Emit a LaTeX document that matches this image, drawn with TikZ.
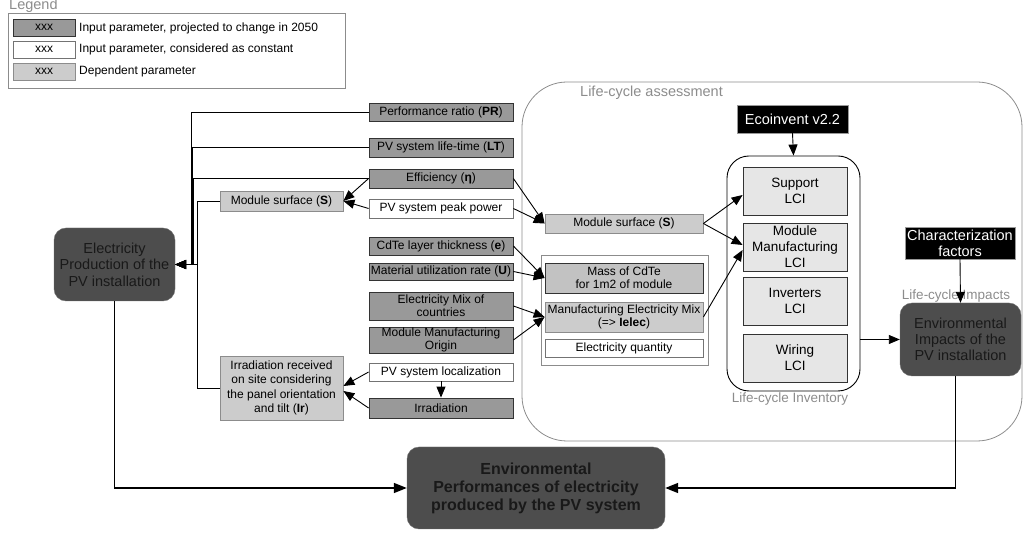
\documentclass[tikz,border=0pt]{standalone}
\usepackage{fontspec}
\setmainfont{Liberation Sans}
\usetikzlibrary{arrows.meta,calc}
\definecolor{dpar}{HTML}{999999}
\definecolor{lpar}{HTML}{CCCCCC}
\definecolor{bigc}{HTML}{4D4D4D}
\definecolor{lcic}{HTML}{E6E6E6}
\definecolor{lbl}{HTML}{8C8C8C}
\begin{document}
\begin{tikzpicture}[x=1pt,y=-1pt,
  box/.style={draw=black!80, inner sep=0pt, align=center, line width=0.8pt, font=\fontsize{12}{13}\selectfont},
  dp/.style={box, fill=dpar, minimum width=144pt},
  wp/.style={box, fill=white, draw=black!55, minimum width=144pt},
  lp/.style={box, fill=lpar, draw=black!45},
  big/.style={draw=black!55, fill=bigc, rounded corners=12pt, inner sep=0pt, align=center, text=black!90},
  lcib/.style={draw=black!80, fill=lcic, line width=0.8pt, minimum width=104pt, minimum height=48pt, inner sep=0pt, align=center, font=\fontsize{13.5}{16}\selectfont},
  blk/.style={draw=black!40, fill=black, text=white, inner sep=0pt, align=center, font=\fontsize{14.5}{16}\selectfont},
  glabel/.style={text=lbl, inner sep=0pt, font=\fontsize{14.5}{16}\selectfont},
  legtext/.style={anchor=west, inner sep=0pt, font=\fontsize{12}{13}\selectfont},
  ln/.style={line width=0.9pt, draw=black},
  arr/.style={ln, -{Triangle[length=11pt,width=9pt]}},
  barr/.style={line width=1.5pt, draw=black, -{Triangle[length=13pt,width=10pt]}},
]
\useasboundingbox (0,0) rectangle (1029,534);

% Legend
\node[glabel, anchor=base west] (legt) at (9,10) {Legend};
\draw[draw=black!45, line width=0.8pt] (8,13) rectangle (345,88);
\node[dp, minimum width=62pt, minimum height=17pt] (lg1) at (44,27.5) {xxx};
\node[wp, minimum width=62pt, minimum height=17pt] (lg2) at (44,49.5) {xxx};
\node[lp, minimum width=62pt, minimum height=17pt] (lg3) at (44,71.5) {xxx};
\node[legtext] (lt1) at (79,28) {Input parameter, projected to change in 2050};
\node[legtext] (lt2) at (79,49) {Input parameter, considered as constant};
\node[legtext] (lt3) at (79,71) {Dependent parameter};

% Life-cycle assessment region
\draw[draw=black!45, line width=0.8pt, rounded corners=45pt] (522,82) rectangle (1022,441);
\node[glabel, anchor=base west] (lcal) at (580,97) {Life-cycle assessment};

% Parameter boxes
\node[dp, minimum height=18pt] (pr) at (441,112) {Performance ratio (\textbf{PR})};
\node[dp, minimum height=19pt] (lt) at (441,147.5) {PV system life-time (\textbf{LT})};
\node[dp, minimum height=19pt] (eff) at (441,178.5) {Efficiency (\textbf{η})};
\node[wp, minimum height=19pt] (peak) at (441,208.5) {PV system peak power};
\node[lp, minimum width=123pt, minimum height=20pt] (msL) at (281.5,201) {Module surface (\textbf{S})};
\node[dp, minimum height=18pt] (cdte) at (441,246) {CdTe layer thickness (\textbf{e})};
\node[dp, minimum height=17pt] (mur) at (441,271.5) {Material utilization rate (\textbf{U})};
\node[dp, minimum height=28pt] (emix) at (441,306) {Electricity Mix of\\countries};
\node[dp, minimum height=26pt] (mmo) at (441,340) {Module Manufacturing\\Origin};
\node[wp, minimum height=18pt] (loc) at (441,372) {PV system localization};
\node[dp, minimum height=20pt] (irr) at (441,408) {Irradiation};
\node[lp, minimum width=123pt, minimum height=64pt, font=\fontsize{12}{14.5}\selectfont] (irrRec) at (281.5,388) {Irradiation received\\on site considering\\the panel orientation\\and tilt (\textbf{Ir})};

\node[big, minimum width=121pt, minimum height=73pt, font=\fontsize{14.5}{16.5}\selectfont] (ep) at (114.5,264.5) {Electricity\\Production of the\\PV installation};

% LCA middle column
\draw[draw=black!45, line width=0.8pt] (541,255) rectangle (708,365);
\node[lp, minimum width=158pt, minimum height=19pt] (msM) at (624,223.5) {Module surface (\textbf{S})};
\node[box, fill=lpar!95!black, minimum width=158pt, minimum height=30pt] (mass) at (624,278) {Mass of CdTe\\for 1m2 of module};
\node[lp, minimum width=158pt, minimum height=30pt] (mem) at (624,317) {Manufacturing Electricity Mix\\(=> \textbf{Ielec})};
\node[wp, minimum width=158pt, minimum height=18pt] (eq) at (624,348) {Electricity quantity};

% LCI
\node[blk, minimum width=111pt, minimum height=28pt] (eco) at (792.5,119) {Ecoinvent v2.2};
\node[draw=black, line width=0.9pt, rounded corners=22pt, minimum width=133pt, minimum height=235pt, inner sep=0pt] (lci) at (793.5,273.5) {};
\node[lcib] (sup) at (795,191) {Support\\LCI};
\node[lcib] (modman) at (795,247) {Module\\Manufacturing\\LCI};
\node[lcib] (inv) at (795,301) {Inverters\\LCI};
\node[lcib] (wir) at (795,358) {Wiring\\LCI};
\node[glabel, font=\fontsize{13.5}{15}\selectfont] (lcil) at (790,399) {Life-cycle Inventory};

% Impacts
\node[blk, minimum width=110pt, minimum height=32pt] (cf) at (960,243) {Characterization\\factors};
\node[glabel, font=\fontsize{13.5}{15}\selectfont] (impl) at (956,296) {Life-cycle Impacts};
\node[big, minimum width=121pt, minimum height=73pt, font=\fontsize{14.5}{16}\selectfont] (eimp) at (960.5,339.5) {Environmental\\Impacts of the\\PV installation};

\node[big, minimum width=258pt, minimum height=82pt, font=\fontsize{16}{18}\selectfont\bfseries] (perf) at (536,488) {Environmental\\Performances of electricity\\produced by the PV system};

% Junctions
\coordinate (j1) at (191,264.5);
\coordinate (j2) at (192,264.5);
\coordinate (j3) at (193,264.5);
\coordinate (j4) at (197,264.5);

% Left connectors
\draw[arr] (pr.west) -| (j1) -- (ep.east);
\draw[arr] (lt.west) -| (j2) -- (ep.east);
\draw[arr] (eff.west) -| (j3) -- (ep.east);
\draw[arr] (msL.west) -| (j4) -- (ep.east);
\draw[arr] (irrRec.west) -| (j4) -- (ep.east);

\draw[arr] (eff.west) -- (msL.east);
\draw[arr] (peak.west) -- (msL.east);
\draw[arr] (loc.west) -- ($(irrRec.east)+(0,-2)$);
\draw[arr] (irr.west) -- ($(irrRec.east)+(0,3)$);
\draw[arr] (loc.south) -- (irr.north);

% To middle column
\draw[arr] (eff.east) -- (msM.west);
\draw[arr] (peak.east) -- (msM.west);
\draw[arr] (cdte.east) -- (mass.west);
\draw[arr] (mur.east) -- (mass.west);
\draw[arr] (emix.east) -- (mem.west);
\draw[arr] (mmo.east) -- (mem.west);

% To LCI
\draw[arr] (msM.east) -- ($(sup.west)+(0,4)$);
\draw[arr] (msM.east) -- ($(modman.west)+(0,-2)$);
\draw[arr] (mem.east) -- ($(modman.west)+(0,3)$);
\draw[arr] (eco.south) -- (lci.north);
\draw[arr] (lci.east |- eimp.west) -- (eimp.west);
\draw[arr] (cf.south) -- (eimp.north);

% Bottom
\draw[barr] (ep.south) |- (perf.west);
\draw[barr] ($(eimp.south)+(-5,0)$) |- (perf.east);
\end{tikzpicture}
\end{document}
